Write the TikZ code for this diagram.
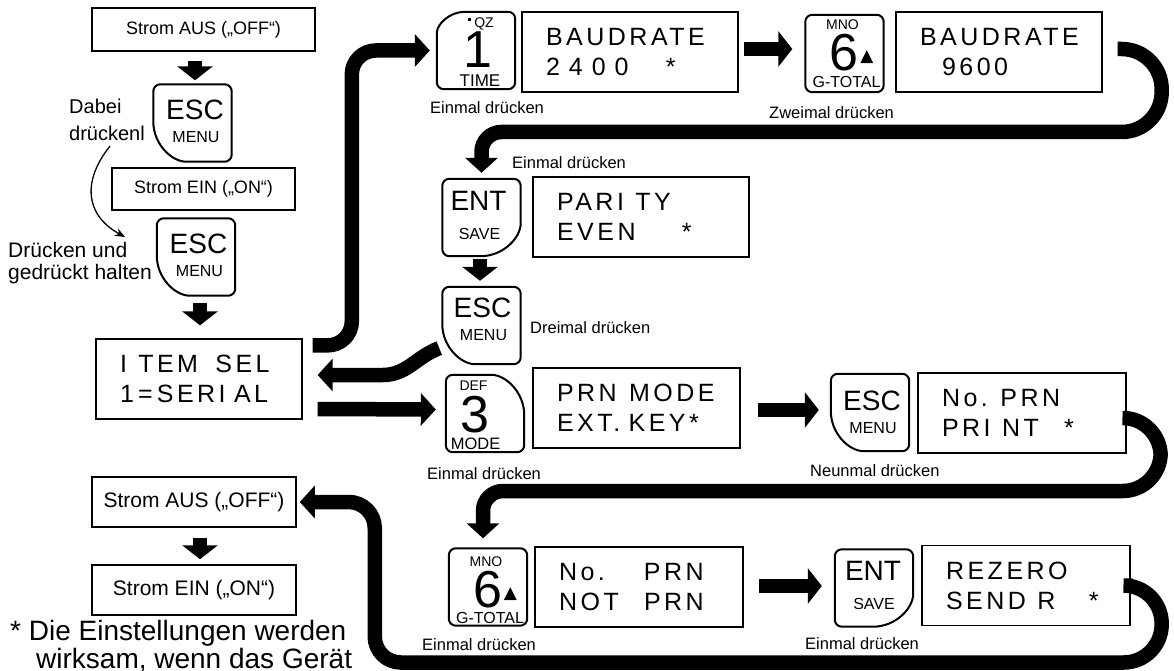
\documentclass[tikz,border=0pt]{standalone}
\usepackage{fontspec}
\setmainfont{Liberation Sans}
\newfontfamily\lcdfont[LetterSpace=14, WordSpace=1.6]{Liberation Sans}
\newfontfamily\symbfont{DejaVu Sans}
\usetikzlibrary{arrows.meta, calc, positioning}

\newcommand\kf[1]{\fontsize{#1}{#1}\selectfont}

% Tastenumriss, grosse Rundung an der letzten Ecke
\newcommand\keyframe[6][40pt]{%
  \draw[keyline, rounded corners=7pt] ($(#2.#6)!#1!(#2.#3)$) -- (#2.#3) -- (#2.#4) -- (#2.#5)
    -- ($(#2.#6)!#1!(#2.#5)$) [sharp corners]
    .. controls ($(#2.#6)!0.45*#1!(#2.#5)$) and ($(#2.#6)!0.45*#1!(#2.#3)$) .. cycle;}

% Tastenbeschriftungen: Taste, x-Versatz, Grundlinie der ersten Zeile
\newcommand\esccap[3]{%
  \node[keycap, font=\kf{28}] (#1a) at ($(#1)+(#2,#3)$) {ESC};
  \node[keycap, font=\kf{16}] (#1b) at ($(#1)+(#2+1,#3+23)$) {MENU};}
\newcommand\entcap[3]{%
  \node[keycap, font=\kf{28}] (#1a) at ($(#1)+(#2,#3)$) {ENT};
  \node[keycap, font=\kf{16}] (#1b) at ($(#1)+(#2+1,#3+29)$) {SAVE};}
\newcommand\sixcap[2]{%
  \node[keycap, font=\kf{14}] (#1a) at ($(#1)+(-2,#2)$) {MNO};
  \node[keycap, font=\kf{52}] (#1b) at ($(#1)+(-0.5,#2+41)$) {6\rlap{\hspace{2pt}\raisebox{9pt}{\kf{17}\symbfont ▲}}};
  \node[keycap, font=\kf{16}] (#1c) at ($(#1)+(2,#2+57.5)$) {G-TOTAL};}

\tikzset{
  keyline/.style={line width=2pt},
  keynode/.style={minimum width=78pt, minimum height=77pt, inner sep=0pt},
  keycap/.style={anchor=base, inner sep=0pt},
  lcdbox/.style={draw, line width=1.3pt, minimum height=80pt, inner xsep=24pt, inner ysep=0pt,
    text width=#1, align=left, font=\lcdfont\fontsize{25}{30}\selectfont},
  pwrbox/.style={draw, line width=1.5pt, inner sep=0pt},
  hint/.style={anchor=west, inner sep=0pt, font=\kf{16.5}},
  route/.style={line width=14.5pt, -{Triangle[length=15pt,width=32pt]}},
  block/.style={line width=14pt, -{Triangle[length=14pt,width=35pt]}},
  thinarrow/.style={line width=1.3pt, -{Stealth[length=10pt,width=8pt]}}
}

\begin{document}
\begin{tikzpicture}[x=1pt, y=-1pt]
  \useasboundingbox (0,0) rectangle (1174,671);

  %--- linke Spalte
  \node[pwrbox, minimum width=223pt, minimum height=43pt, font=\kf{18}] (aus1) at (203.5,29.5) {Strom AUS („OFF“)};
  \node[keynode] (esc1) at (192.5,123) {};
  \esccap{esc1}{2.5}{-3}
  \node[pwrbox, minimum width=183pt, minimum height=42pt, font=\kf{18}] (ein1) at (203.5,189) {Strom EIN („ON“)};
  \node[keynode] (esc2) at (196,257) {};
  \esccap{esc2}{2.5}{-4}
  \node[lcdbox=158pt] (itemsel) at (199,379) {\mbox{I\hspace{3pt} TEM\hspace{9pt} SEL}\\1\,=\,SERI AL};
  \node[pwrbox, minimum width=204pt, minimum height=50pt, font=\kf{21}] (aus2) at (194,502) {Strom AUS („OFF“)};
  \node[pwrbox, minimum width=204pt, minimum height=50pt, font=\kf{21}] (ein2) at (194,590) {Strom EIN („ON“)};

  \node[anchor=north west, align=left, inner sep=0pt, font=\fontsize{20}{27}\selectfont] (dabei) at (69,99) {Dabei\\drückenl};
  \node[anchor=north west, align=left, inner sep=0pt, font=\fontsize{21}{22}\selectfont] (druecken) at (8,242) {Drücken und\\gedrückt halten};
  \node[anchor=north west, align=left, inner sep=0pt, font=\fontsize{28}{24}\selectfont] (note) at (10,620.5)
    {* Die Einstellungen werden\\\hspace*{26pt}wirksam, wenn das Gerät};

  %--- obere Reihe
  \node[keynode] (key1) at (476,50.5) {};
  \node[keycap, font=\kf{14}] (key1a) at ($(key1)+(5,-23)$) {\raisebox{6pt}{\rule{3pt}{3pt}}\kern3pt QZ};
  \node[keycap, font=\kf{52}] (key1b) at ($(key1)+(2,17)$) {1};
  \node[keycap, font=\kf{17}] (key1c) at ($(key1)+(4,36.5)$) {TIME};
  \node[lcdbox=168pt] (baud1) at (630,52) {BAUDRATE\\\makebox[120pt][l]{2\kern9pt4\kern9pt0\kern9pt0}*};
  \node[keynode] (key6a) at (844.5,53.5) {};
  \sixcap{key6a}{-23.5}
  \node[lcdbox=158pt] (baud2) at (999,52) {BAUDRATE\\\hspace*{22pt}9600};
  \node[hint] (lab1) at (430,107.5) {Einmal drücken};
  \node[hint] (lab2) at (769,112.5) {Zweimal drücken};

  %--- Paritaet
  \node[hint] (lab3) at (512,162.5) {Einmal drücken};
  \node[keynode] (ent1) at (481.5,217.5) {};
  \entcap{ent1}{-3}{-7.5}
  \node[lcdbox=168pt] (parity) at (641,217) {PARI\hspace{3pt} TY\\\makebox[125pt][l]{EVEN}*};
  \node[keynode] (esc3) at (481.5,325.5) {};
  \esccap{esc3}{1}{-8}
  \node[hint] (lab4) at (530,327.5) {Dreimal drücken};

  %--- Druckmodus
  \node[keynode] (key3) at (485,413.5) {};
  \node[keycap, font=\kf{14}] (key3a) at ($(key3)+(-11.5,-23)$) {DEF};
  \node[keycap, font=\kf{52}] (key3b) at ($(key3)+(-10,18.5)$) {3};
  \node[keycap, font=\kf{16.5}] (key3c) at ($(key3)+(-9.5,36)$) {MODE};
  \node[lcdbox=159pt] (prnmode) at (636.5,408) {\mbox{PRN\hspace{4pt} MODE}\\EXT. KEY*};
  \node[keynode] (esc4) at (870,412.5) {};
  \esccap{esc4}{2}{-2.5}
  \node[lcdbox=160pt] (noprn) at (1022,413) {No. PRN\\\makebox[122pt][l]{PRI\hspace{3pt} NT}*};
  \node[hint] (lab5) at (427,473.5) {Einmal drücken};
  \node[hint] (lab6) at (810,471) {Neunmal drücken};

  %--- untere Reihe
  \node[keynode] (key6b) at (488,587) {};
  \sixcap{key6b}{-21}
  \node[lcdbox=160pt] (notprn) at (639,587) {\makebox[85pt][l]{No.}PRN\\\makebox[85pt][l]{NOT}PRN};
  \node[keynode] (ent2) at (874,588) {};
  \entcap{ent2}{-1}{-8}
  \node[lcdbox=160pt] (rezero) at (1026,585.5) {REZERO\\\makebox[143pt][l]{SEND\hspace{3pt} R}*};
  \node[hint] (lab7) at (422,645) {Einmal drücken};
  \node[hint] (lab8) at (805,643.5) {Einmal drücken};

  %--- Tastenumrisse
  \keyframe{esc1}{north west}{north east}{south east}{south west}
  \keyframe{esc2}{north west}{north east}{south east}{south west}
  \keyframe[28pt]{key1}{north east}{south east}{south west}{north west}
  \draw[keyline, rounded corners=7pt] (key6a.north west) rectangle (key6a.south east);
  \keyframe{ent1}{south west}{north west}{north east}{south east}
  \keyframe{esc3}{north west}{north east}{south east}{south west}
  \keyframe{key3}{south east}{south west}{north west}{north east}
  \keyframe{esc4}{north west}{north east}{south east}{south west}
  \draw[keyline, rounded corners=7pt] (key6b.north west) rectangle (key6b.south east);
  \keyframe{ent2}{south west}{north west}{north east}{south east}

  %--- kurze Pfeile
  \draw[block] ($(aus1.south)+(-8.5,9)$) -- ($(esc1.north)+(2.5,-4)$);
  \draw[block] ($(esc2.south)+(4,7)$) -- ($(itemsel.north)+(1,-13)$);
  \draw[block] ($(ent1.south)+(-1.5,3)$) -- ($(esc3.north)+(-1.5,-6)$);
  \draw[block] ($(aus2.south)+(6,10)$) -- ($(ein2.north)+(6,-5)$);
  \draw[block] ($(baud1.east)+(5,-3)$) -- ($(key6a.west)+(-13,-4.5)$);
  \draw[block] ($(prnmode.east)+(17,2)$) -- ($(esc4.west)+(-12,-2.5)$);
  \draw[block] ($(notprn.east)+(15,-1)$) -- ($(ent2.west)+(-13,-2)$);

  %--- duenner Pfeil
  \draw[thinarrow] ($(dabei.south)+(3,5)$) .. controls +(-28,35) and +(-40,-22) .. ($(druecken.north east)+(-27,-5)$);

  %--- lange Wege
  \draw[route, rounded corners=24pt] ($(itemsel.north east)+(10,7)$) -| ($(key1.west)+(-85,0)$) -- ($(key1.west)+(-7,0)$);
  \draw[route] ($(esc3.south west)+(-3,-16)$) to[out=200, in=0] ($(itemsel.east)+(80,-4)$) -- ($(itemsel.east)+(15,-4)$);
  \draw[route] ($(itemsel.east)+(15,30)$) -- ($(key3.west)+(-10,-4)$);
  \draw[route, rounded corners=40pt] ($(baud2.east)+(15,-3)$) -- ++(44,0) -- ++(0,83)
    [rounded corners=20pt] -| ($(ent1.north)+(0,-6)$);
  \draw[route, rounded corners=38pt] ($(noprn.east)+(1,5)$) -- ++(33,0) -- ++(0,73)
    [rounded corners=20pt] -| ($(key6b.north)+(-5,-10)$);
  \draw[route, rounded corners=38pt] ($(rezero.east)+(2,0)$) -- ++(29,0) -- ++(0,77)
    [rounded corners=26pt] -| ($(aus2.east)+(78,0)$) -- ($(aus2.east)+(3,0)$);
\end{tikzpicture}
\end{document}
